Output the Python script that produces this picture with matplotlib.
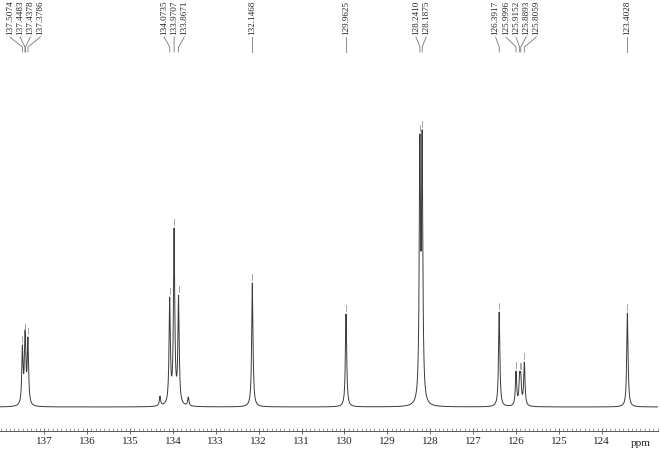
import numpy as np
import matplotlib
matplotlib.use("Agg")
import matplotlib.pyplot as plt

# labelled peaks (ppm) and their apparent heights above baseline (px)
peak_ppm = [137.5074, 137.4483, 137.4378, 137.3786,
            134.0735, 133.9707, 133.8671, 132.1468, 129.9625,
            128.2410, 128.1875, 126.3917, 125.9996, 125.9152,
            125.8893, 125.8059, 123.4028]
peak_top = [62, 74, 74, 70,
            110, 179, 112, 124, 93,
            273, 277, 95, 36, 35,
            35, 45, 94]

# small unlabelled shoulders
small_ppm = [134.30, 133.64]
small_top = [11, 10]

major_ticks = list(range(124, 138))
x_left, x_right = 138.03, 122.69
gamma = 0.018  # lorentzian half width (ppm)

serif = "Liberation Serif"

fig = plt.figure(figsize=(6.6, 4.49), dpi=100)
ax = fig.add_axes([0, 18 / 449, 658 / 660, 431 / 449])
ax.set_xlim(x_left, x_right)
ax.set_ylim(-24, 407)

# build the spectrum from the peak list
all_ppm = np.array(peak_ppm + small_ppm)
all_top = np.array(peak_top + small_top, dtype=float)
d = all_ppm[:, None] - all_ppm[None, :]
A = 1.0 / (1.0 + (d / gamma) ** 2)
amps = np.clip(np.linalg.solve(A, all_top), 0, None)

x = np.arange(x_right - 0.05, x_left + 0.05, 0.001)
y = np.zeros_like(x)
for p, a in zip(all_ppm, amps):
    y += a / (1.0 + ((x - p) / gamma) ** 2)
ax.plot(x, y, color="#3a3a3a", lw=0.7)

# small markers above each labelled peak
for p, t in zip(peak_ppm, peak_top):
    ax.plot([p, p], [t + 3, t + 9], color="#999999", lw=0.6)

# spread labels so they do not overlap (in pixels)
fig.canvas.draw()
to_px = lambda v: ax.transData.transform((v, 0))[0]
from_px = lambda px: ax.transData.inverted().transform((px, 0))[0]
spacing = 10.2
px = [to_px(p) for p in peak_ppm]
clusters = [[i] for i in range(len(px))]


def positions(cl):
    c = np.mean([px[i] for i in cl])
    n = len(cl)
    return [c + (k - (n - 1) / 2) * spacing for k in range(n)]


changed = True
while changed:
    changed = False
    for k in range(len(clusters) - 1):
        a = positions(clusters[k])
        b = positions(clusters[k + 1])
        if b[0] - a[-1] < spacing:
            clusters[k] = clusters[k] + clusters[k + 1]
            del clusters[k + 1]
            changed = True
            break

for cl in clusters:
    for i, lx in zip(cl, positions(cl)):
        lp = from_px(lx)
        ax.plot([lp, peak_ppm[i], peak_ppm[i]], [407 - 37, 407 - 47, 407 - 52],
                color="#777777", lw=0.6, clip_on=False)
        ax.text(lp, 407 - 35, f"{peak_ppm[i]:.4f}", rotation=90,
                ha="center", va="bottom", fontsize=6.6, family=serif,
                color="#222222", clip_on=False)

# axis styling
for s in ["top", "left", "right"]:
    ax.spines[s].set_visible(False)
ax.spines["bottom"].set_color("#555555")
ax.spines["bottom"].set_linewidth(0.7)
ax.set_yticks([])
ax.set_xticks(major_ticks)
ax.set_xticks(np.arange(122.7, 138.05, 0.1), minor=True)
ax.tick_params(axis="x", which="major", direction="inout", length=5,
               width=0.6, color="#555555", pad=2, labelsize=8)
ax.tick_params(axis="x", which="minor", direction="in", length=2,
               width=0.5, color="#777777")
for lab in ax.get_xticklabels():
    lab.set_family(serif)
    lab.set_color("#222222")
fig.text(641 / 660, 1 - 443 / 449, "ppm", ha="center", va="center",
         fontsize=8, family=serif, color="#222222")

fig.savefig("out.png", dpi=100)
